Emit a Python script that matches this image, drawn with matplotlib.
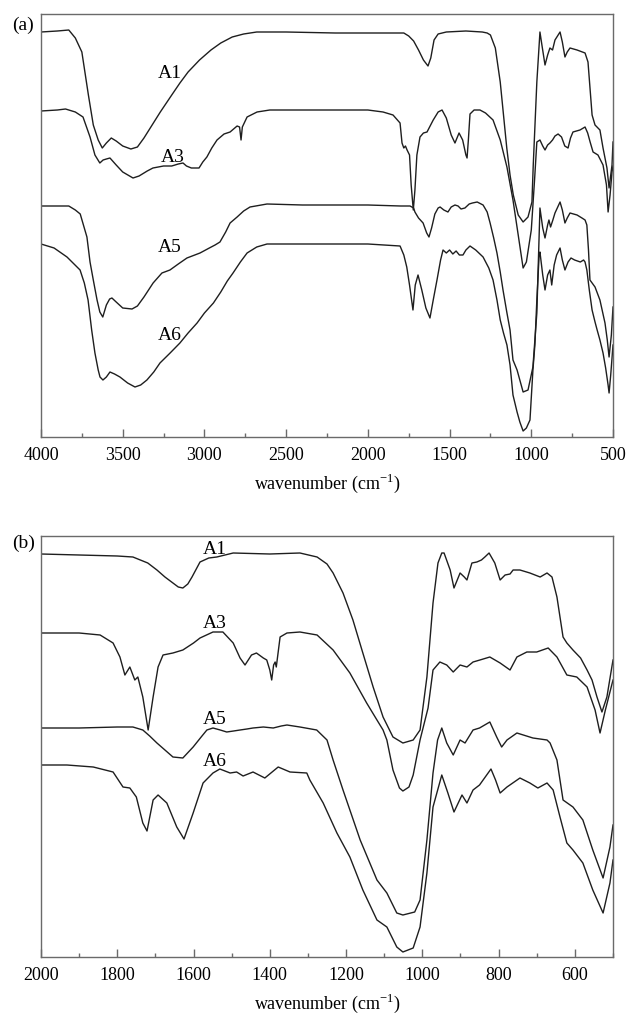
"""FTIR spectra of samples A1, A3, A5, A6 — (a) full range, (b) 2000-500 cm-1 detail.

Transmittance in arbitrary units, curves stacked with their offsets baked in.
"""
import matplotlib
matplotlib.use("Agg")
import matplotlib.pyplot as plt
from matplotlib.ticker import MultipleLocator

# ---- panel (a): 4000-500 cm-1 ----
a1_wn = [4000, 3900, 3830, 3790, 3750, 3710, 3680, 3650, 3625, 3600, 3570, 3540, 3500, 3450, 3410,
         3370, 3320, 3270, 3200, 3150, 3100, 3030, 2960, 2900, 2830, 2760, 2680, 2500, 2200, 1900,
         1780, 1750, 1720, 1690, 1660, 1632, 1615, 1595, 1570, 1520, 1400, 1300, 1270, 1250, 1220,
         1190, 1170, 1150, 1130, 1110, 1080, 1050, 1020, 996, 988, 966, 947, 935, 916, 900,
         886, 870, 855, 824, 810, 794, 780, 763, 720, 671, 653, 628, 610, 580, 561,
         537, 524, 506, 500]
a1_t = [405, 406, 407, 399, 385, 342, 312, 297, 289, 294, 299, 296, 291, 288, 290,
        299, 312, 325, 342, 354, 365, 377, 387, 394, 400, 403, 405, 405, 404, 404,
        404, 401, 396, 387, 377, 371, 379, 397, 403, 405, 406, 405, 404, 402, 389,
        355, 322, 289, 262, 242, 222, 215, 220, 235, 272, 355, 405, 392, 372, 382,
        389, 387, 397, 405, 395, 380, 385, 389, 387, 384, 375, 322, 312, 307, 289,
        269, 249, 272, 295]

a3_wn = [4000, 3900, 3850, 3790, 3743, 3700, 3670, 3640, 3620, 3600, 3578, 3540, 3500, 3437, 3400,
         3350, 3315, 3250, 3200, 3160, 3131, 3110, 3080, 3050, 3033, 3010, 2985, 2955, 2923, 2880,
         2843, 2800, 2785, 2776, 2768, 2739, 2678, 2600, 2400, 2000, 1907, 1846, 1803, 1791, 1780,
         1770, 1760, 1745, 1735, 1722, 1712, 1700, 1681, 1660, 1638, 1600, 1570, 1546, 1520, 1490,
         1467, 1442, 1420, 1400, 1393, 1385, 1375, 1350, 1314, 1280, 1234, 1190, 1149, 1112, 1080,
         1050, 1030, 1000, 980, 966, 947, 930, 916, 900, 886, 870, 855, 836, 815, 795,
         775, 760, 745, 702, 671, 655, 640, 622, 592, 561, 540, 530, 518, 506, 500]
a3_t = [326, 327, 328, 325, 320, 300, 282, 274, 277, 278, 279, 272, 265, 259, 261,
        266, 269, 271, 271, 273, 274, 271, 269, 269, 269, 275, 280, 289, 297, 303,
        305, 311, 310, 297, 310, 320, 325, 327, 327, 327, 325, 322, 314, 294, 289,
        291, 287, 282, 252, 227, 247, 282, 300, 304, 305, 317, 325, 327, 319, 302,
        294, 304, 297, 282, 279, 297, 323, 327, 327, 324, 317, 297, 270, 237, 202,
        169, 175, 207, 257, 295, 297, 291, 287, 292, 294, 297, 301, 303, 300, 291,
        289, 299, 305, 307, 310, 304, 295, 285, 282, 272, 252, 225, 242, 265, 271]

a5_wn = [4000, 3900, 3830, 3790, 3760, 3719, 3700, 3680, 3657, 3640, 3622, 3600, 3580, 3566, 3540,
         3500, 3443, 3410, 3370, 3314, 3260, 3211, 3160, 3107, 3027, 2970, 2935, 2905, 2870, 2843,
         2800, 2760, 2721, 2617, 2400, 2000, 1800, 1742, 1720, 1712, 1690, 1662, 1640, 1626, 1610,
         1590, 1570, 1558, 1535, 1510, 1490, 1467, 1448, 1430, 1406, 1380, 1360, 1331, 1295, 1270,
         1252, 1230, 1210, 1190, 1173, 1150, 1130, 1112, 1087, 1050, 1020, 990, 966, 947, 930,
         916, 900, 892, 882, 868, 855, 824, 810, 794, 780, 763, 720, 690, 671, 660,
         650, 641, 610, 580, 549, 535, 524, 510, 500]
a5_t = [231, 231, 231, 227, 223, 200, 175, 157, 137, 125, 120, 132, 138, 139, 135,
        129, 128, 131, 140, 154, 164, 167, 173, 179, 184, 189, 192, 195, 205, 214,
        220, 226, 230, 233, 232, 232, 231, 231, 229, 225, 219, 214, 204, 200, 209,
        223, 229, 230, 227, 225, 230, 232, 231, 228, 229, 233, 234, 235, 232, 225,
        214, 199, 184, 165, 147, 125, 107, 77, 67, 45, 47, 70, 124, 229, 209,
        199, 212, 217, 210, 217, 224, 235, 227, 214, 219, 224, 222, 219, 217, 212,
        187, 157, 150, 137, 114, 97, 80, 102, 130]

a6_wn = [4000, 3920, 3841, 3761, 3735, 3712, 3690, 3670, 3650, 3639, 3621, 3600, 3578, 3550, 3517,
         3470, 3425, 3390, 3352, 3310, 3272, 3210, 3150, 3100, 3045, 3000, 2945, 2900, 2860, 2825,
         2780, 2739, 2680, 2617, 2400, 2000, 1803, 1780, 1762, 1745, 1724, 1710, 1693, 1670, 1645,
         1620, 1600, 1577, 1555, 1540, 1520, 1500, 1480, 1460, 1440, 1418, 1400, 1375, 1340, 1295,
         1260, 1234, 1210, 1190, 1170, 1149, 1130, 1112, 1087, 1070, 1050, 1030, 1008, 990, 978,
         966, 952, 947, 930, 916, 900, 886, 875, 860, 845, 824, 810, 794, 775, 757,
         735, 700, 680, 671, 660, 645, 628, 610, 597, 580, 561, 545, 530, 524, 514,
         506, 500]
a6_t = [193, 189, 180, 167, 154, 137, 107, 84, 67, 60, 57, 60, 65, 63, 60,
        54, 50, 52, 57, 65, 74, 84, 94, 104, 114, 124, 134, 145, 156, 164,
        175, 184, 190, 193, 193, 193, 191, 182, 170, 152, 127, 152, 162, 147, 129,
        119, 137, 157, 177, 187, 184, 187, 183, 186, 182, 182, 187, 191, 187, 180,
        169, 157, 137, 117, 104, 92, 72, 42, 25, 15, 6, 9, 17, 67, 92,
        137, 182, 185, 162, 147, 162, 167, 152, 172, 182, 189, 177, 167, 175, 179,
        177, 175, 177, 175, 167, 147, 127, 115, 107, 97, 84, 69, 52, 44, 62,
        79, 92]

# ---- panel (b): 2000-500 cm-1 ----
b1_wn = [2000, 1900, 1800, 1759, 1720, 1696, 1675, 1654, 1640, 1628, 1615, 1604, 1583, 1560, 1539,
         1496, 1400, 1321, 1276, 1250, 1234, 1208, 1182, 1156, 1129, 1103, 1077, 1051, 1024, 1006,
         988, 972, 959, 949, 943, 927, 917, 901, 890, 883, 870, 857, 845, 836, 825,
         810, 796, 783, 770, 762, 744, 718, 691, 673, 660, 647, 631, 621, 605, 585,
         568, 555, 542, 529, 516, 500]
b1_t = [403, 402, 401, 400, 394, 387, 380, 374, 370, 369, 373, 380, 395, 399, 400,
        404, 403, 404, 400, 393, 384, 364, 337, 304, 270, 240, 220, 214, 217, 227,
        280, 354, 394, 404, 404, 387, 369, 384, 380, 377, 394, 395, 397, 400, 404,
        394, 377, 382, 383, 387, 387, 384, 380, 384, 380, 360, 320, 314, 307, 299,
        287, 277, 260, 245, 260, 297]

b3_wn = [2000, 1900, 1845, 1811, 1793, 1780, 1767, 1754, 1746, 1733, 1719, 1706, 1693, 1680, 1654,
         1628, 1600, 1583, 1549, 1523, 1496, 1478, 1465, 1448, 1435, 1417, 1408, 1400, 1395, 1390,
         1386, 1383, 1373, 1355, 1321, 1276, 1234, 1190, 1146, 1119, 1103, 1093, 1077, 1060, 1051,
         1035, 1024, 1006, 985, 972, 954, 936, 919, 901, 883, 867, 849, 823, 796, 770,
         752, 726, 700, 670, 647, 621, 595, 568, 547, 534, 520, 500]
b3_t = [324, 324, 322, 314, 300, 282, 290, 277, 280, 260, 227, 260, 290, 302, 304,
        307, 314, 319, 325, 325, 314, 299, 292, 302, 304, 299, 297, 287, 277, 292,
        295, 290, 320, 324, 325, 322, 307, 284, 254, 237, 227, 217, 187, 169, 166,
        170, 182, 217, 249, 287, 295, 292, 285, 292, 290, 295, 297, 300, 294, 287,
        300, 305, 305, 309, 300, 282, 280, 270, 247, 224, 247, 277]

b5_wn = [2000, 1900, 1800, 1759, 1733, 1715, 1696, 1675, 1654, 1628, 1601, 1580, 1565, 1549, 1530,
         1513, 1495, 1478, 1460, 1444, 1417, 1391, 1370, 1355, 1321, 1277, 1250, 1234, 1208, 1163,
         1119, 1093, 1067, 1051, 1020, 1006, 988, 972, 960, 949, 936, 919, 901, 888, 867,
         850, 823, 805, 792, 778, 752, 710, 673, 665, 647, 631, 605, 579, 553, 526,
         508, 500]
b5_t = [229, 229, 230, 230, 227, 221, 214, 207, 200, 199, 210, 220, 227, 229, 227,
        225, 226, 227, 228, 229, 230, 229, 231, 232, 230, 227, 217, 197, 167, 117,
        77, 64, 44, 42, 45, 57, 117, 184, 217, 229, 214, 202, 217, 214, 227,
        229, 235, 220, 210, 217, 224, 219, 217, 214, 197, 157, 150, 137, 107, 79,
        110, 132]

b6_wn = [2000, 1932, 1863, 1811, 1785, 1767, 1750, 1733, 1722, 1706, 1693, 1670, 1644, 1625, 1601,
         1575, 1549, 1531, 1504, 1487, 1470, 1444, 1413, 1378, 1347, 1303, 1295, 1260, 1224, 1190,
         1156, 1119, 1093, 1067, 1051, 1024, 1006, 988, 972, 949, 933, 917, 896, 883, 867,
         850, 820, 808, 796, 778, 744, 718, 697, 673, 657, 639, 621, 605, 579, 553,
         526, 508, 500]
b6_t = [192, 192, 190, 185, 170, 169, 160, 134, 126, 157, 162, 154, 130, 118, 144,
        174, 184, 188, 184, 185, 181, 185, 179, 190, 185, 184, 177, 154, 124, 100,
        67, 37, 30, 10, 5, 9, 30, 84, 150, 182, 164, 145, 162, 154, 167,
        172, 188, 177, 164, 170, 179, 174, 169, 174, 167, 140, 114, 107, 94, 67,
        44, 74, 97]

labels = ["A1", "A3", "A5", "A6"]
# label anchor (wavenumber, transmittance) for each curve
label_a_wn = [3210, 3195, 3210, 3210]
label_a_t = [364, 280, 189, 102]
label_b_wn = [1545, 1545, 1545, 1545]
label_b_t = [407, 334, 237, 195]

LINE = "#1e1e1e"
FRAME = "#6a6a6a"


def style_axes(ax, xlim, ylim, major, minor):
    ax.set_xlim(*xlim)
    ax.set_ylim(*ylim)
    ax.set_yticks([])
    ax.xaxis.set_major_locator(MultipleLocator(major))
    ax.xaxis.set_minor_locator(MultipleLocator(minor))
    ax.tick_params(axis="x", which="major", direction="in", length=6, width=1,
                   color=FRAME, labelsize=13, pad=7)
    ax.tick_params(axis="x", which="minor", direction="in", length=3, width=1, color=FRAME)
    for s in ax.spines.values():
        s.set_color(FRAME)
        s.set_linewidth(1.0)
    ax.set_xlabel("wavenumber (cm$^{\\mathrm{-1}}$)", fontsize=13, labelpad=6)


def main():
    plt.rcParams["font.family"] = ["Liberation Serif", "DejaVu Serif"]
    plt.rcParams["mathtext.fontset"] = "custom"
    plt.rcParams["mathtext.rm"] = "Liberation Serif"

    fig = plt.figure(figsize=(6.32, 10.14), dpi=100)
    ax_a = fig.add_axes([41 / 632, 1 - 437 / 1014, 572 / 632, 423 / 1014])
    ax_b = fig.add_axes([41 / 632, 1 - 957 / 1014, 572 / 632, 421 / 1014])

    for wn, t in [(a1_wn, a1_t), (a3_wn, a3_t), (a5_wn, a5_t), (a6_wn, a6_t)]:
        ax_a.plot(wn, t, color=LINE, lw=1.0, solid_joinstyle="round")
    for wn, t in [(b1_wn, b1_t), (b3_wn, b3_t), (b5_wn, b5_t), (b6_wn, b6_t)]:
        ax_b.plot(wn, t, color=LINE, lw=1.0, solid_joinstyle="round")

    for lab, x, y in zip(labels, label_a_wn, label_a_t):
        ax_a.text(x, y, lab, fontsize=14, ha="center", va="center")
    for lab, x, y in zip(labels, label_b_wn, label_b_t):
        ax_b.text(x, y, lab, fontsize=14, ha="center", va="center")

    style_axes(ax_a, (4000, 500), (0, 423), 500, 250)
    style_axes(ax_b, (2000, 500), (0, 421), 200, 100)
    ax_b.set_xticks([2000, 1800, 1600, 1400, 1200, 1000, 800, 600])

    fig.text(12 / 632, 1 - 25 / 1014, "(a)", fontsize=14, va="center", ha="left")
    fig.text(12 / 632, 1 - 543 / 1014, "(b)", fontsize=14, va="center", ha="left")

    fig.savefig("out.png", dpi=100)
    plt.close(fig)


if __name__ == "__main__":
    main()
